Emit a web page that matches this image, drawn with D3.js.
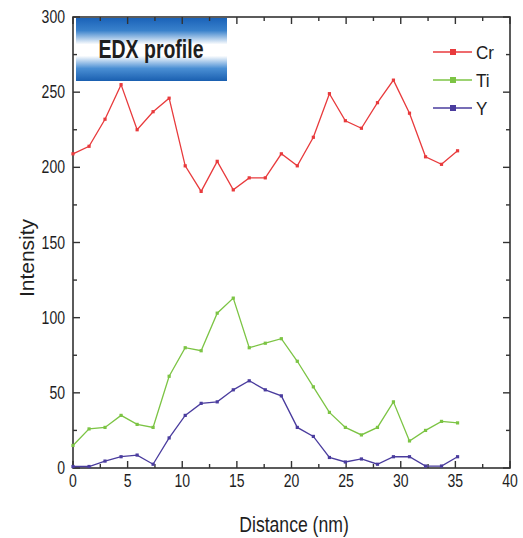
<!DOCTYPE html>
<html>
<head>
<meta charset="utf-8">
<script src="https://cdn.jsdelivr.net/npm/d3@7"></script>
<style>
  body { margin: 0; background: #fff; }
  text { font-family: "Liberation Sans", Arial, sans-serif; fill: #1e1e1e; }
</style>
</head>
<body>
<svg id="chart" width="523" height="538"></svg>
<script>
    // distance step is ~1.467 nm, 25 points
    var distance = [0, 1.47, 2.93, 4.4, 5.87, 7.33, 8.8, 10.27, 11.73, 13.2, 14.67, 16.13, 17.6,
                    19.07, 20.53, 22, 23.47, 24.93, 26.4, 27.87, 29.33, 30.8, 32.27, 33.73, 35.2];
    var cr = [209, 214, 232, 255, 225, 237, 246, 201, 184, 204, 185, 193, 193,
              209, 201, 220, 249, 231, 226, 243, 258, 236, 207, 202, 211];
    var ti = [15, 26, 27, 35, 29, 27, 61, 80, 78, 103, 113, 80, 83,
              86, 71, 54, 37, 27, 22, 27, 44, 18, 25, 31, 30];
    var yy = [1, 1, 4.6, 7.5, 8.6, 2.5, 20, 35, 43, 44, 52, 58, 52,
              48, 27, 21, 7, 4, 6, 2.5, 7.5, 7.5, 1.3, 1.3, 7.5];

    var seriesNames = ["Cr", "Ti", "Y"];
    var seriesColors = ["#e83a3c", "#7cc444", "#4a3c9e"];
    var seriesValues = [cr, ti, yy];

    var xTicks = [0, 5, 10, 15, 20, 25, 30, 35, 40];
    var yTicks = [0, 50, 100, 150, 200, 250, 300];

    var svg = d3.select("#chart");
    var plotL = 73, plotR = 510, plotT = 17, plotB = 468;

    var x = d3.scaleLinear().domain([0, 40]).range([plotL, plotR]);
    var y = d3.scaleLinear().domain([0, 300]).range([plotB, plotT]);

    // narrow-looking text: scale horizontally since no narrow font is installed
    function addText(parent, tx, ty, str, size, sx, anchor) {
        return parent.append("g")
            .attr("transform", "translate(" + tx + "," + ty + ") scale(" + sx + ",1)")
            .append("text")
            .attr("text-anchor", anchor || "start")
            .style("font-size", size + "px")
            .text(str);
    }

    // title box with blue gradient
    var grad = svg.append("defs").append("linearGradient")
        .attr("id", "boxgrad")
        .attr("x1", 0).attr("y1", 0).attr("x2", 0).attr("y2", 1);
    [[0, "#1a62b8"], [0.2, "#3a82cc"], [0.42, "#ffffff"], [0.6, "#ffffff"], [0.8, "#4a8fd4"], [1, "#1a5fb0"]]
        .forEach(function (s) {
            grad.append("stop").attr("offset", s[0]).attr("stop-color", s[1]);
        });

    svg.append("rect")
        .attr("x", 76).attr("y", 18).attr("width", 151).attr("height", 63)
        .attr("fill", "url(#boxgrad)");
    addText(svg, 151, 58, "EDX profile", 25, 0.78, "middle")
        .style("font-weight", "bold");

    // frame
    svg.append("rect")
        .attr("x", plotL).attr("y", plotT)
        .attr("width", plotR - plotL).attr("height", plotB - plotT)
        .attr("fill", "none").attr("stroke", "#333").attr("stroke-width", 1.6);

    // ticks on all four sides, pointing inward
    var xMinor = d3.range(0, 40.1, 2.5);
    var yMinor = d3.range(0, 300.1, 25);
    var tickG = svg.append("g").attr("stroke", "#333").attr("stroke-width", 1.4);
    xMinor.forEach(function (v) {
        var len = (v % 5 === 0) ? 7 : 4;
        tickG.append("line").attr("x1", x(v)).attr("x2", x(v)).attr("y1", plotB).attr("y2", plotB - len);
        tickG.append("line").attr("x1", x(v)).attr("x2", x(v)).attr("y1", plotT).attr("y2", plotT + len);
    });
    yMinor.forEach(function (v) {
        var len = (v % 50 === 0) ? 7 : 4;
        tickG.append("line").attr("x1", plotL).attr("x2", plotL + len).attr("y1", y(v)).attr("y2", y(v));
        tickG.append("line").attr("x1", plotR).attr("x2", plotR - len).attr("y1", y(v)).attr("y2", y(v));
    });

    // tick labels
    var xl = svg.append("g");
    xTicks.forEach(function (d) {
        addText(xl, x(d), 487, d, 18, 0.78, "middle");
    });
    var yl = svg.append("g");
    yTicks.forEach(function (d) {
        addText(yl, plotL - 8, y(d) + 6, d, 18, 0.78, "end");
    });

    // axis titles
    addText(svg, 294, 532, "Distance (nm)", 22, 0.8, "middle");
    svg.append("text")
        .attr("transform", "translate(34,258) rotate(-90)")
        .attr("text-anchor", "middle")
        .style("font-size", "21px")
        .text("Intensity");

    // lines
    var line = d3.line()
        .x(function (d, i) {return x(distance[i]);})
        .y(function (d) {return y(d);});

    seriesValues.forEach(function (vals, k) {
        svg.append("path")
            .datum(vals)
            .attr("d", line)
            .attr("fill", "none")
            .attr("stroke", seriesColors[k])
            .attr("stroke-width", 1.3);
        svg.append("g").selectAll("rect")
            .data(vals).enter().append("rect")
            .attr("x", function (d, i) {return x(distance[i]) - 1.6;})
            .attr("y", function (d) {return y(d) - 1.6;})
            .attr("width", 3.2).attr("height", 3.2)
            .attr("fill", seriesColors[k]);
    });

    // legend
    var legend = svg.append("g");
    seriesNames.forEach(function (name, k) {
        var ly = 52 + k * 28;
        legend.append("line")
            .attr("x1", 433).attr("x2", 472).attr("y1", ly).attr("y2", ly)
            .attr("stroke", seriesColors[k]).attr("stroke-width", 1.5);
        legend.append("rect")
            .attr("x", 450).attr("y", ly - 3).attr("width", 6).attr("height", 6)
            .attr("fill", seriesColors[k]);
        addText(legend, 476, ly + 7, name, 19, 0.9, "start");
    });
</script>
</body>
</html>
